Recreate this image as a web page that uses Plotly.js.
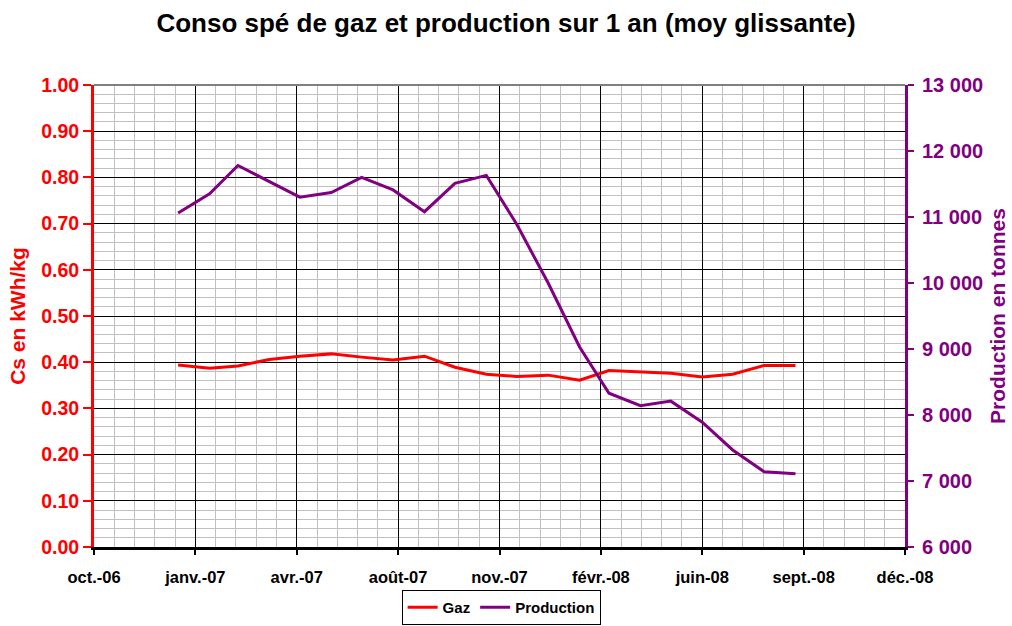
<!DOCTYPE html>
<html>
<head>
<meta charset="utf-8">
<script src="https://cdn.plot.ly/plotly-3.0.1.min.js"></script>
<style>
html,body{margin:0;padding:0;background:#fff;}
#chart{width:1012px;height:626px;}
</style>
</head>
<body>
<div id="chart"></div>
<script>
const months = ['2007-01-01','2007-02-01','2007-03-01','2007-04-01','2007-05-01','2007-06-01','2007-07-01','2007-08-01','2007-09-01','2007-10-01','2007-11-01','2007-12-01','2008-01-01','2008-02-01','2008-03-01','2008-04-01','2008-05-01','2008-06-01','2008-07-01','2008-08-01','2008-09-01'];
const gaz = [0.394,0.387,0.392,0.406,0.413,0.418,0.411,0.405,0.413,0.389,0.374,0.369,0.372,0.361,0.382,0.379,0.376,0.368,0.374,0.393,0.393];
const production = [11060,11350,11780,11530,11300,11370,11600,11410,11080,11510,11630,10890,10000,9030,8330,8140,8210,7890,7470,7140,7110];
const xTickVals = ['2006-10-10','2007-01-18','2007-04-28','2007-08-06','2007-11-14','2008-02-22','2008-06-01','2008-09-09','2008-12-18'];
const xTickText = ['oct.-06','janv.-07','avr.-07','août-07','nov.-07','févr.-08','juin-08','sept.-08','déc.-08'];
const seriesNames = ['Gaz','Production'];

const RED = '#ff0000';
const PURPLE = '#800080';
const FONT = 'Liberation Sans, Arial, sans-serif';

const traces = [
  {x: months, y: gaz, name: seriesNames[0], type: 'scatter', mode: 'lines',
   line: {color: RED, width: 3}, yaxis: 'y'},
  {x: months, y: production, name: seriesNames[1], type: 'scatter', mode: 'lines',
   line: {color: PURPLE, width: 3}, yaxis: 'y2'}
];

const layout = {
  width: 1012, height: 626,
  margin: {l: 94, r: 107, t: 85, b: 79},
  paper_bgcolor: '#fff', plot_bgcolor: '#fff',
  separators: '. ',
  font: {family: FONT, color: '#000'},
  showlegend: true,
  title: {
    text: '<b>Conso spé de gaz et production sur 1 an (moy glissante)</b>',
    font: {family: FONT, size: 26, color: '#000'},
    x: 0.5, xref: 'container', xanchor: 'center',
    y: 1 - 23/626, yref: 'container', yanchor: 'middle'
  },
  xaxis: {
    type: 'date',
    range: [xTickVals[0], xTickVals[xTickVals.length - 1]],
    tickmode: 'array', tickvals: xTickVals, ticktext: xTickText,
    tickfont: {family: FONT, size: 16.5, color: '#000', weight: 'bold'},
    ticks: 'outside', ticklen: 5, tickwidth: 2, tickcolor: '#000',
    ticklabelstandoff: 8,
    showline: true, linecolor: '#000', linewidth: 3,
    showgrid: true, gridcolor: '#000', gridwidth: 1,
    zeroline: false,
    minor: {tickmode: 'linear', tick0: xTickVals[0], dtick: 20 * 86400000,
            showgrid: true, gridcolor: '#c0c0c0', gridwidth: 1, ticks: ''},
    automargin: false,
    fixedrange: true
  },
  yaxis: {
    range: [0, 1], dtick: 0.1, tick0: 0, tickformat: '.2f',
    tickfont: {family: FONT, size: 19.5, color: RED, weight: 'bold'},
    ticks: 'outside', ticklen: 8, tickwidth: 2, tickcolor: RED,
    showline: true, linecolor: RED, linewidth: 3,
    showgrid: true, gridcolor: '#000', gridwidth: 1,
    zeroline: false,
    minor: {dtick: 0.02, showgrid: true, gridcolor: '#c0c0c0', gridwidth: 1, ticks: ''},
    title: {text: '<b>Cs en kWh/kg</b>', font: {family: FONT, size: 21, color: RED}, standoff: 10},
    automargin: false,
    fixedrange: true
  },
  yaxis2: {
    range: [6000, 13000], dtick: 1000, tickformat: ',d',
    overlaying: 'y', side: 'right',
    tickfont: {family: FONT, size: 20, color: PURPLE, weight: 'bold'},
    ticks: 'outside', ticklen: 6, tickwidth: 2, tickcolor: PURPLE,
    ticklabelstandoff: 4,
    showline: true, linecolor: PURPLE, linewidth: 3,
    showgrid: false, zeroline: false,
    title: {text: '<b>Production en tonnes</b>', font: {family: FONT, size: 21, color: PURPLE}, standoff: 9},
    automargin: false,
    fixedrange: true
  },
  yaxis3: {
    range: [6000, 13000], dtick: 1000,
    overlaying: 'y', side: 'right', anchor: 'x',
    ticks: 'inside', ticklen: 6, tickwidth: 2, tickcolor: PURPLE,
    showticklabels: false, showline: false, showgrid: false, zeroline: false,
    automargin: false,
    fixedrange: true
  },
  legend: {
    orientation: 'h', x: 0.502, xanchor: 'center',
    yref: 'container', y: 1 / 626, yanchor: 'bottom',
    bordercolor: '#000', borderwidth: 1, bgcolor: '#fff',
    font: {family: FONT, size: 15, color: '#000', weight: 'bold'},
    itemwidth: 30, tracegroupgap: 0
  },
  shapes: [
    {type: 'line', xref: 'paper', yref: 'paper', x0: 0, x1: 1, y0: 1, y1: 1,
     line: {color: '#808080', width: 2}, layer: 'above'}
  ]
};

Plotly.newPlot('chart', traces, layout, {displayModeBar: false, staticPlot: true});
</script>
</body>
</html>
